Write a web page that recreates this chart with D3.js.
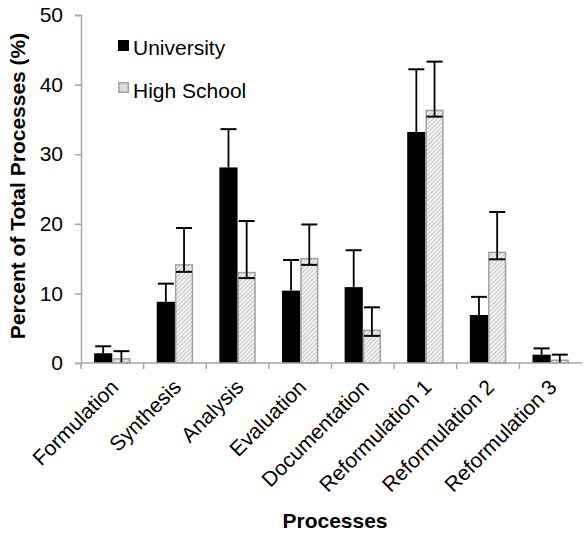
<!DOCTYPE html>
<html>
<head>
<script src="https://d3js.org/d3.v7.min.js"></script>
<style>
  body { margin: 0; background: #fff; }
  text { font-family: "Liberation Sans", Arial, sans-serif; }
</style>
</head>
<body>
<svg id="chart" width="584" height="538"></svg>
<script>
// data
var categories = ["Formulation", "Synthesis", "Analysis", "Evaluation", "Documentation",
                  "Reformulation 1", "Reformulation 2", "Reformulation 3"];
var series = ["University", "High School"];
var university = [1.4, 8.8, 28.1, 10.4, 10.9, 33.2, 6.9, 1.2];
var universityErr = [2.4, 11.4, 33.6, 14.8, 16.2, 42.2, 9.5, 2.1];
var highSchool = [0.7, 14.2, 13.1, 15.1, 4.8, 36.4, 16.0, 0.5];
var highSchoolErr = [1.7, 19.4, 20.4, 19.9, 8.0, 43.3, 21.7, 1.2];
var highSchoolLow = [0.0, 13.1, 12.2, 14.1, 3.9, 35.4, 14.9, 0.0];
var yTicks = [0, 10, 20, 30, 40, 50];

var svg = d3.select("#chart");
var plotLeft = 81, plotRight = 582, plotTop = 15, plotBottom = 363;

var x = d3.scaleBand().domain(categories).range([plotLeft, plotRight]);
var x1 = d3.scaleBand().domain(series).range([0, x.bandwidth()]).paddingOuter(0.72);
var y = d3.scaleLinear().domain([0, 50]).range([plotBottom, plotTop]);

// hatch pattern for high school bars
var defs = svg.append("defs");
var pat = defs.append("pattern")
    .attr("id", "hatch")
    .attr("patternUnits", "userSpaceOnUse")
    .attr("width", 3).attr("height", 3)
    .attr("patternTransform", "rotate(45)");
pat.append("rect").attr("width", 3).attr("height", 3).attr("fill", "#f4f4f4");
pat.append("line").attr("x1", 0).attr("y1", 0).attr("x2", 0).attr("y2", 3)
    .attr("stroke", "#9a9a9a").attr("stroke-width", 1.1);

var axisColor = "#a6a6a6";
var fontSize = 21;

// y axis
var yAxis = svg.append("g")
    .attr("transform", "translate(" + plotLeft + ",0)")
    .call(d3.axisLeft(y).tickValues(yTicks).tickSize(6).tickPadding(12));
yAxis.select(".domain").attr("stroke", axisColor).attr("stroke-width", 1.5);
yAxis.selectAll(".tick line").attr("stroke", axisColor).attr("stroke-width", 1.5);
yAxis.selectAll(".tick text").attr("font-size", fontSize).attr("fill", "#000");

// bars
var groups = svg.append("g").selectAll("g")
  .data(categories)
  .enter().append("g")
    .attr("transform", function(d) { return "translate(" + x(d) + ",0)"; });

groups.append("rect")
    .attr("x", x1("University"))
    .attr("width", x1.bandwidth())
    .attr("y", function(d, i) { return y(university[i]); })
    .attr("height", function(d, i) { return plotBottom - y(university[i]); })
    .attr("fill", "#000");

groups.append("rect")
    .attr("x", function() { return x1("High School") + 0.75; })
    .attr("width", x1.bandwidth() - 1.5)
    .attr("y", function(d, i) { return y(highSchool[i]) + 0.75; })
    .attr("height", function(d, i) { return Math.max(0, plotBottom - y(highSchool[i]) - 0.75); })
    .attr("fill", "url(#hatch)")
    .attr("stroke", "#a0a0a0")
    .attr("stroke-width", 1.5);

// error bars
var cap = 8;
function errBar(sel, xOff, topVals, lowVals, baseVals) {
  sel.append("line")
      .attr("x1", xOff).attr("x2", xOff)
      .attr("y1", function(d, i) { return y(topVals[i]); })
      .attr("y2", function(d, i) { return y(lowVals ? lowVals[i] : baseVals[i]); })
      .attr("stroke", "#000").attr("stroke-width", 1.8);
  sel.append("line")
      .attr("x1", xOff - cap).attr("x2", xOff + cap)
      .attr("y1", function(d, i) { return y(topVals[i]); })
      .attr("y2", function(d, i) { return y(topVals[i]); })
      .attr("stroke", "#000").attr("stroke-width", 2);
  if (lowVals) {
    sel.filter(function(d, i) { return lowVals[i] > 0; }).append("line")
        .attr("x1", xOff - cap).attr("x2", xOff + cap)
        .attr("y1", function(d) { return y(lowVals[categories.indexOf(d)]); })
        .attr("y2", function(d) { return y(lowVals[categories.indexOf(d)]); })
        .attr("stroke", "#000").attr("stroke-width", 2);
  }
}
errBar(groups, x1("University") + x1.bandwidth() / 2, universityErr, null, university);
errBar(groups, x1("High School") + x1.bandwidth() / 2, highSchoolErr, highSchoolLow, highSchool);

// x axis
svg.append("line")
    .attr("x1", plotLeft).attr("x2", plotRight)
    .attr("y1", plotBottom).attr("y2", plotBottom)
    .attr("stroke", axisColor).attr("stroke-width", 1.5);
svg.append("g").selectAll("line")
  .data(categories)
  .enter().append("line")
    .attr("x1", function(d) { return x(d); })
    .attr("x2", function(d) { return x(d); })
    .attr("y1", plotBottom).attr("y2", plotBottom + 6)
    .attr("stroke", axisColor).attr("stroke-width", 1.5);

svg.append("g").selectAll("text")
  .data(categories)
  .enter().append("text")
    .attr("transform", function(d) {
      return "translate(" + (x(d) + x.bandwidth() / 2 - 3) + "," + (plotBottom + 15) + ") rotate(-45)";
    })
    .attr("text-anchor", "end")
    .attr("dy", "0.7em")
    .attr("font-size", fontSize)
    .text(function(d) { return d; });

// axis titles
svg.append("text")
    .attr("x", 335).attr("y", 528)
    .attr("text-anchor", "middle")
    .attr("font-size", fontSize).attr("font-weight", "bold")
    .text("Processes");

svg.append("text")
    .attr("transform", "translate(25,186) rotate(-90)")
    .attr("text-anchor", "middle")
    .attr("font-size", fontSize).attr("font-weight", "bold")
    .text("Percent of Total Processes (%)");

// legend
var legend = svg.append("g").attr("transform", "translate(118,40)");
legend.append("rect").attr("x", 0).attr("y", 0).attr("width", 11).attr("height", 11).attr("fill", "#000");
legend.append("text").attr("x", 15).attr("y", 15).attr("font-size", fontSize).text(series[0]);
legend.append("rect").attr("x", 0.75).attr("y", 42.75).attr("width", 9.5).attr("height", 9.5)
    .attr("fill", "#dcdcdc").attr("stroke", "#a0a0a0").attr("stroke-width", 1.5);
legend.append("text").attr("x", 15).attr("y", 58).attr("font-size", fontSize).text(series[1]);
</script>
</body>
</html>
